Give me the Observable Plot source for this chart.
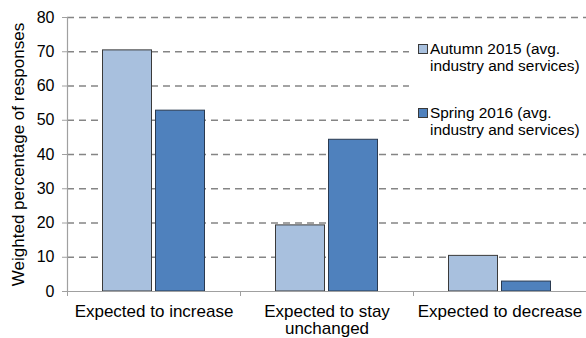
<!DOCTYPE html>
<html>
<head>
<meta charset="utf-8">
<script src="https://cdn.jsdelivr.net/npm/d3@7"></script>
<script src="https://cdn.jsdelivr.net/npm/@observablehq/plot@0.6"></script>
<style>
  html, body { margin: 0; padding: 0; background: #fff; }
  #wrap { position: relative; width: 586px; height: 338px; font-family: "Liberation Sans", Arial, sans-serif; }
  #legend { position: absolute; left: 409px; top: 36px; width: 177px; height: 102px; background: #fff; font-size: 15.4px; color: #000; }
  .item { position: absolute; left: 9px; line-height: 17px; padding-left: 12px; white-space: nowrap; }
  .sw { position: absolute; left: 0; top: 4px; width: 8px; height: 8px; border: 1px solid #3a3a3a; }
</style>
</head>
<body>
<div id="wrap"></div>
<script>
const categories = ["Expected to increase", "Expected to stay unchanged", "Expected to decrease"];
const categoryLabels = ["Expected to increase", "Expected to stay\nunchanged", "Expected to decrease"];
const seriesNames = ["Autumn 2015 (avg. industry and services)", "Spring 2016 (avg. industry and services)"];
const autumn2015 = [70.4, 19.3, 10.4];
const spring2016 = [52.8, 44.3, 2.9];
const yTicks = [0, 10, 20, 30, 40, 50, 60, 70, 80];
const yTitle = "Weighted percentage of responses";
const colors = ["#a8c0de", "#4f81bd"];

const W = 586, H = 338, mL = 67, mR = 0, mT = 17, mB = 47;
const bw = (W - mL - mR) / categories.length;
const barW = 49, gap = 4;
const innerIn = bw / 2 - gap / 2 - barW;   // outer inset
const innerOut = bw / 2 + gap / 2;         // inset on the far side

const rowsA = categories.map((c, i) => ({category: c, value: autumn2015[i]}));
const rowsS = categories.map((c, i) => ({category: c, value: spring2016[i]}));

const chart = Plot.plot({
  width: W, height: H,
  marginLeft: mL, marginRight: mR, marginTop: mT, marginBottom: mB,
  style: {fontFamily: "'Liberation Sans', Arial, sans-serif", fontSize: "16px", color: "#000", background: "#fff"},
  x: {domain: categories, padding: 0, axis: null, label: null},
  y: {domain: [0, 80], axis: null, label: null},
  marks: [
    Plot.ruleY(yTicks.filter(d => d > 0), {stroke: "#858585", strokeDasharray: "7,5", strokeWidth: 1.3}),
    Plot.barY(rowsA, {x: "category", y: "value", fill: colors[0], stroke: "#3a3a3a", strokeWidth: 1, insetLeft: innerIn, insetRight: innerOut}),
    Plot.barY(rowsS, {x: "category", y: "value", fill: colors[1], stroke: "#2a3a50", strokeWidth: 1, insetLeft: innerOut, insetRight: innerIn}),
    Plot.ruleY([0], {stroke: "#a0a0a0", strokeWidth: 1.2}),
    Plot.ruleX([categories[0]], {dx: -bw / 2, y1: 0, y2: 80, stroke: "#a0a0a0", strokeWidth: 1.2}),
    Plot.axisY({ticks: yTicks, tickSize: 5, tickPadding: 8, stroke: "#a0a0a0", fill: "#000", fontSize: 16, label: null, tickFormat: d => String(d)}),
    Plot.axisX({ticks: categories, tickSize: 5, tickFormat: () => "", dx: -bw / 2, stroke: "#a0a0a0", label: null}),
    Plot.axisX({ticks: [categories[categories.length - 1]], tickSize: 5, tickFormat: () => "", dx: bw / 2, stroke: "#a0a0a0", label: null}),
    Plot.axisX({ticks: categories, tickSize: 0, tickPadding: 13, fill: "#000", fontSize: 17, label: null,
      tickFormat: d => categoryLabels[categories.indexOf(d)]}),
    Plot.text([yTitle], {text: d => d, frameAnchor: "left", rotate: -90, dx: -49, textAnchor: "middle", lineAnchor: "middle", fontSize: 17, fill: "#000"})
  ]
});

const wrap = document.getElementById("wrap");
wrap.appendChild(chart);

const legend = document.createElement("div");
legend.id = "legend";
const tops = [4, 68];
seriesNames.map((name, i) => {
  const item = document.createElement("div");
  item.className = "item";
  item.style.top = tops[i] + "px";
  const sw = document.createElement("span");
  sw.className = "sw";
  sw.style.background = colors[i];
  item.appendChild(sw);
  const parts = name.split(" (avg. ");
  item.appendChild(document.createTextNode(parts[0] + " (avg."));
  item.appendChild(document.createElement("br"));
  item.appendChild(document.createTextNode(parts[1]));
  legend.appendChild(item);
});
wrap.appendChild(legend);
</script>
</body>
</html>
